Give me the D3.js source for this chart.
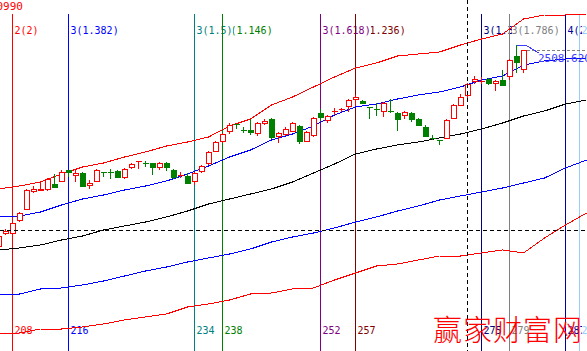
<!DOCTYPE html>
<html>
<head>
<meta charset="utf-8">
<script src="https://cdn.jsdelivr.net/npm/d3@7/dist/d3.min.js"></script>
<style>
body { margin: 0; background: #fff; overflow: hidden; }
text { font-family: "DejaVu Sans Mono", monospace; font-size: 10px; }
</style>
</head>
<body>
<script>
// candles, bar numbers 206..281
var bars = d3.range(206, 282);
var open = [2118,2144,2144,2170,2192,2228,2230,2232,2242,2248,
            2270,2260,2264,2240,2248,2266,2266,2268,2256,2276,
            2287,2284,2284,2276,2284,2270,2259,2258,2248,2268,
            2284,2308,2328,2348,2362,2350,2350,2344,2364,2372,
            2338,2342,2348,2358,2328,2340,2384,2370,2387,2391,
            2398,2412,2408,2396,2392,2388,2388,2384,2380,2384,
            2372,2356,2334,2330,2334,2374,2400,2420,2448,2447,
            2452,2444,2450,2458,2498,2472];
var high = [2140,2152,2166,2186,2232,2238,2246,2254,2262,2270,
            2270,2270,2266,2250,2272,2266,2272,2270,2274,2284,
            2288,2288,2284,2286,2286,2272,2266,2264,2266,2280,
            2308,2328,2344,2364,2362,2356,2372,2366,2372,2374,
            2346,2356,2366,2360,2348,2376,2392,2380,2394,2394,
            2412,2420,2410,2396,2404,2406,2412,2386,2388,2386,
            2374,2360,2340,2330,2372,2402,2422,2444,2458,2456,
            2454,2450,2470,2492,2520,2510];
var low = [2116,2140,2142,2166,2190,2224,2228,2228,2234,2246,
           2256,2246,2236,2232,2246,2256,2252,2254,2252,2272,
           2272,2276,2260,2270,2268,2252,2254,2242,2240,2264,
           2280,2306,2324,2342,2352,2344,2340,2338,2360,2332,
           2324,2338,2346,2322,2326,2336,2368,2364,2380,2386,
           2386,2398,2402,2372,2378,2376,2384,2348,2372,2366,
           2358,2336,2330,2320,2332,2372,2398,2412,2442,2442,
           2440,2428,2438,2450,2464,2464];
var close = [2138,2148,2164,2184,2230,2232,2232,2252,2236,2266,
             2266,2264,2238,2244,2270,2265,2265,2256,2272,2282,
             2288,2283,2276,2284,2276,2256,2260,2244,2264,2278,
             2306,2326,2342,2360,2361,2349,2346,2364,2368,2336,
             2344,2352,2364,2328,2346,2374,2376,2378,2388,2392,
             2410,2416,2404,2395,2391,2404,2387,2372,2386,2372,
             2360,2338,2333,2329,2370,2400,2416,2442,2452,2448,
             2444,2448,2440,2490,2486,2508.62];

// band lines, read every third bar
var bandBars = [206,209,212,215,218,221,224,227,230,233,236,239,242,245,248,
                251,254,257,260,263,266,269,272,275,278,281,284,287,290];
var upperRed = [2232,2238,2246,2262,2276,2284,2296,2306,2318,2326,2336,2358,2372,2400,2416,
                2436,2456,2474,2484,2498,2502,2506,2520,2532,2542,2572,2580,2580,2582];
var midBlue = [2176,2178,2186,2200,2212,2220,2230,2238,2248,2262,2278,2296,2310,2330,2342,
               2358,2380,2396,2402,2412,2420,2426,2436,2450,2458,2480,2488,2492,2494];
var midBlack = [2110,2114,2120,2130,2138,2150,2158,2166,2176,2188,2202,2212,2222,2232,2246,
                2264,2282,2302,2312,2320,2326,2334,2342,2352,2364,2378,2388,2402,2410];
var lowBlue = [2022,2022,2032,2034,2040,2048,2058,2068,2076,2086,2094,2102,2112,2126,2136,
               2144,2154,2166,2176,2188,2198,2210,2218,2226,2234,2244,2254,2274,2290];
var lowRed = [1942,1944,1952,1952,1956,1962,1970,1976,1982,1996,2002,2010,2022,2024,2032,
              2034,2050,2064,2078,2082,2090,2098,2098,2104,2110,2104,2134,2160,2184];

// time-cycle lines (in label drawing order) and their labels
var cycleBars = [208, 216, 238, 234, 257, 252, 275, 279, 287, 289];
var cycleLabels = ["2(2)", "3(1.382)", "3(1.146)", "3(1.5)", "3(1.236)", "3(1.618)",
                   "3(1.382)", "3(1.786)", "4(2)", "2(2)"];

// crosshair and last price tag
var crossBar = 273, crossPrice = 2150;
var lastPrice = 2508.62;
var tagBars = [280, 281.5, 283.2];
var tagPrices = [2520, 2518, 2504];
var stockCode = "0990";
var watermark = "赢家财富网";

var cycleColor = {208: "#ff0000", 216: "#0000ff", 234: "#008080", 238: "#008000",
    252: "#800080", 257: "#800000", 275: "#000080", 279: "#808080",
    287: "#0000a0", 289: "#99ccff"};

var w = 587, h = 351;
var x = d3.scaleLinear().domain([208, 281]).range([12.5, 523.5]);
var y = d3.scaleLinear().domain([1908, 2610]).range([h, 0]);

var svg = d3.select("body").append("svg")
    .attr("width", w)
    .attr("height", h)
    .style("display", "block")
    .attr("shape-rendering", "crispEdges");

var charW = 6.02;

// labels first, lines go over them
cycleBars.forEach(function(b, i){
    var cx = x(b) + 2;
    var txt = cycleLabels[i];
    svg.append("rect").attr("x", cx).attr("y", 24)
        .attr("width", txt.length * charW).attr("height", 12).attr("fill", "#fff");
    svg.append("text").attr("x", cx).attr("y", 34)
        .attr("fill", cycleColor[b]).text(txt);
    var bt = String(b);
    svg.append("rect").attr("x", cx).attr("y", 325)
        .attr("width", bt.length * charW).attr("height", 12).attr("fill", "#fff");
    svg.append("text").attr("x", cx).attr("y", 334)
        .attr("fill", cycleColor[b]).text(bt);
});

svg.selectAll(".cycle")
    .data(cycleBars)
    .enter()
    .append("line")
    .attr("class", "cycle")
    .attr("x1", function(d){ return x(d); })
    .attr("x2", function(d){ return x(d); })
    .attr("y1", 14)
    .attr("y2", h)
    .attr("stroke", function(d){ return cycleColor[d]; });

// band lines
var bandLine = function(vals){
    return d3.line()
        .x(function(d, i){ return x(bandBars[i]); })
        .y(function(d){ return y(d); })(vals);
};
[[lowRed, "#ff0000"], [lowBlue, "#0000ff"], [midBlack, "#000000"],
 [midBlue, "#0000ff"], [upperRed, "#ff0000"]].forEach(function(b){
    svg.append("path")
        .attr("d", bandLine(b[0]))
        .attr("fill", "none")
        .attr("stroke", b[1]);
});

// candles
var candles = svg.selectAll(".candle")
    .data(bars)
    .enter()
    .append("g")
    .attr("class", "candle");

var isUp = function(i){ return close[i] >= open[i]; };

candles.append("line")
    .attr("x1", function(d){ return x(d); })
    .attr("x2", function(d){ return x(d); })
    .attr("y1", function(d, i){ return y(high[i]); })
    .attr("y2", function(d, i){ return y(low[i]); })
    .attr("stroke", function(d, i){ return isUp(i) ? "#ff0000" : "#008000"; });

candles.append("rect")
    .attr("x", function(d){ return x(d) - 2.5; })
    .attr("width", 5)
    .attr("y", function(d, i){ return y(Math.max(open[i], close[i])); })
    .attr("height", function(d, i){ return Math.abs(y(open[i]) - y(close[i])); })
    .attr("fill", function(d, i){ return isUp(i) ? "#ffffff" : "#008000"; })
    .attr("stroke", function(d, i){ return isUp(i) ? "#ff0000" : "#008000"; });

// last price tag
svg.append("line")
    .attr("x1", x(281.5)).attr("x2", w)
    .attr("y1", y(lastPrice)).attr("y2", y(lastPrice))
    .attr("stroke", "#808080")
    .attr("stroke-dasharray", "3,2");
svg.append("path")
    .attr("d", d3.line()
        .x(function(d, i){ return x(tagBars[i]); })
        .y(function(d){ return y(d); })(tagPrices))
    .attr("fill", "none")
    .attr("stroke", "#3c3cff");
svg.append("text")
    .attr("x", x(283.2) - 1)
    .attr("y", y(lastPrice) + 11)
    .attr("fill", "#3c3cff")
    .style("font-size", "11px")
    .text(d3.format(".3f")(lastPrice));

// crosshair
svg.append("line")
    .attr("x1", 0).attr("x2", w)
    .attr("y1", y(crossPrice)).attr("y2", y(crossPrice))
    .attr("stroke", "#000")
    .attr("stroke-dasharray", "4,3");
svg.append("line")
    .attr("x1", x(crossBar)).attr("x2", x(crossBar))
    .attr("y1", 0).attr("y2", h)
    .attr("stroke", "#000")
    .attr("stroke-dasharray", "4,3");

// code at top left
svg.append("text")
    .attr("x", 23).attr("y", 10)
    .attr("text-anchor", "end")
    .attr("fill", "#ff0000")
    .style("font-size", "11px")
    .text(stockCode);

// watermark
svg.append("text")
    .attr("x", 433).attr("y", 341)
    .attr("fill", "#ff0000")
    .style("font-family", "'Noto Sans CJK SC'")
    .style("font-size", "29px")
    .style("font-weight", "300")
    .style("letter-spacing", "1px")
    .text(watermark);
</script>
</body>
</html>
